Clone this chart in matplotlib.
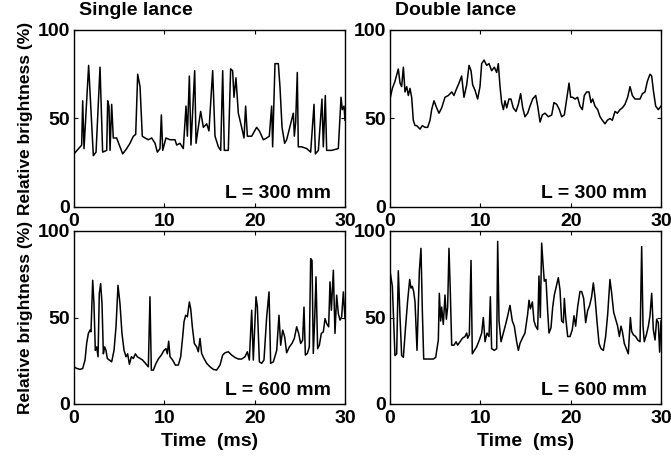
import numpy as np
import matplotlib
matplotlib.use('Agg')
import matplotlib.pyplot as plt

plt.rcParams['font.family'] = ['Liberation Sans', 'DejaVu Sans']
plt.rcParams['font.weight'] = 'bold'

# ── data (time in ms, brightness in %) ─────────────────────────────────────
t_single_300 = [0, 0.85, 0.96, 1.11, 1.62, 2.14, 2.44, 2.88, 3.17, 3.62,
                3.73, 3.87, 3.99, 4.17, 4.35, 4.72, 5.09, 5.39, 5.83, 6.20,
                6.57, 6.83, 7.05, 7.31, 7.56, 7.86, 8.23, 8.60, 8.97, 9.23,
                9.52, 9.67, 9.82, 10.18, 10.63, 11.18, 11.37, 11.73, 12.10, 12.40,
                12.55, 12.77, 12.95, 13.36, 13.51, 13.76, 14.02, 14.32, 14.69, 14.94,
                15.35, 15.61, 15.98, 16.24, 16.46, 16.64, 17.08, 17.34, 17.56, 17.71,
                17.93, 18.19, 18.56, 18.82, 19.00, 19.19, 19.67, 20.22, 20.52, 20.96,
                21.33, 21.62, 21.88, 21.99, 22.25, 22.62, 22.80, 23.03, 23.32, 23.54,
                24.28, 24.39, 24.54, 24.72, 24.83, 25.20, 25.76, 26.20, 26.57, 26.72,
                27.05, 27.45, 27.60, 27.82, 27.97, 28.52, 29.26, 29.56, 29.70, 29.89, 30.0]
v_single_300 = [30, 35, 60, 33, 80, 29, 31, 79, 31, 32,
                60, 57, 32, 58, 39, 39, 34, 30, 33, 36,
                40, 41, 75, 68, 40, 39, 38, 39, 36, 31,
                33, 52, 32, 39, 38, 38, 35, 36, 33, 57,
                40, 74, 35, 77, 36, 45, 54, 45, 47, 43,
                77, 40, 34, 32, 77, 32, 32, 78, 77, 62,
                73, 53, 45, 39, 57, 40, 40, 45, 43, 38,
                39, 40, 57, 34, 81, 81, 68, 45, 36, 38,
                53, 40, 48, 76, 34, 34, 33, 31, 58, 30,
                32, 61, 34, 63, 32, 32, 33, 62, 55, 57, 49]

t_double_300 = [0, 0.26, 0.55, 0.92, 1.11, 1.29, 1.48, 1.66, 1.85, 2.03,
                2.21, 2.40, 2.58, 2.77, 2.95, 3.14, 3.32, 3.58, 3.87, 4.17,
                4.43, 4.61, 4.87, 5.17, 5.42, 5.72, 6.09, 6.46, 6.83, 7.08,
                7.38, 7.64, 7.93, 8.19, 8.49, 8.75, 8.97, 9.15, 9.41, 9.70,
                9.96, 10.15, 10.41, 10.70, 10.96, 11.25, 11.55, 11.81, 11.99, 12.18,
                12.36, 12.55, 12.73, 12.92, 13.17, 13.39, 13.65, 13.95, 14.21, 14.46,
                14.69, 14.94, 15.24, 15.50, 15.79, 16.13, 16.35, 16.61, 16.86, 17.16,
                17.53, 17.90, 18.15, 18.45, 18.75, 19.00, 19.30, 19.56, 19.82, 20.00,
                20.22, 20.48, 20.77, 21.03, 21.29, 21.51, 21.77, 22.03, 22.25, 22.44,
                22.69, 22.99, 23.25, 23.51, 23.80, 24.06, 24.35, 24.61, 24.91, 25.17,
                25.46, 25.72, 26.01, 26.31, 26.57, 26.83, 27.12, 27.38, 27.68, 27.93,
                28.23, 28.49, 28.78, 28.97, 29.15, 29.41, 29.70, 30.0]
v_double_300 = [61, 67, 71, 78, 70, 68, 79, 65, 68, 63,
                67, 62, 49, 46, 46, 45, 44, 46, 45, 45,
                49, 55, 60, 56, 53, 56, 62, 63, 65, 63,
                67, 70, 74, 62, 69, 80, 77, 69, 66, 61,
                68, 81, 83, 80, 81, 77, 79, 76, 81, 68,
                59, 55, 60, 56, 61, 61, 56, 54, 58, 64,
                56, 51, 53, 57, 61, 63, 57, 48, 52, 53,
                51, 52, 59, 58, 55, 51, 52, 61, 70, 62,
                62, 61, 62, 57, 55, 63, 65, 65, 59, 61,
                57, 55, 51, 49, 47, 49, 50, 49, 54, 53,
                55, 56, 58, 62, 68, 63, 61, 61, 61, 64,
                65, 71, 75, 74, 66, 57, 55, 57]

t_single_600 = [0, 0.30, 0.66, 0.96, 1.22, 1.40, 1.59, 1.77, 1.88, 2.07,
                2.21, 2.36, 2.51, 2.66, 2.80, 2.95, 3.10, 3.25, 3.39, 3.54,
                3.69, 3.91, 4.17, 4.43, 4.65, 4.87, 5.09, 5.31, 5.54, 5.76,
                5.94, 6.13, 6.35, 6.57, 6.79, 7.01, 7.31, 7.60, 7.90, 8.23,
                8.41, 8.56, 8.78, 9.08, 9.37, 9.67, 9.96, 10.18, 10.33, 10.48,
                10.63, 10.92, 11.22, 11.55, 11.81, 12.03, 12.18, 12.36, 12.55, 12.77,
                12.92, 13.10, 13.32, 13.58, 13.76, 13.95, 14.13, 14.39, 14.69, 15.06,
                15.42, 15.79, 16.16, 16.46, 16.72, 17.08, 17.45, 17.82, 18.19, 18.56,
                18.93, 19.19, 19.41, 19.67, 19.85, 20.15, 20.30, 20.52, 20.77, 21.03,
                21.33, 21.59, 21.77, 22.07, 22.44, 22.69, 22.88, 23.10, 23.32, 23.54,
                23.84, 24.13, 24.39, 24.65, 24.87, 25.09, 25.31, 25.46, 25.61, 25.83,
                26.05, 26.20, 26.35, 26.49, 26.64, 26.79, 26.97, 27.16, 27.38, 27.60,
                27.79, 27.97, 28.19, 28.34, 28.49, 28.71, 28.89, 29.08, 29.26, 29.45,
                29.63, 29.82, 30.0]
v_single_600 = [21.5, 20.6, 20, 20.5, 25.4, 35, 40.8, 42.7, 41.7, 71.5,
                58, 31, 33, 27.3, 63.8, 69.6, 58, 29, 33, 31,
                26.3, 25.4, 24.4, 31, 44.6, 68.6, 58, 40.8, 31, 27.3,
                29, 23, 27.3, 26.3, 29, 27.3, 26.3, 25.4, 23.5, 21.5,
                62, 19.6, 19.6, 23.5, 26.3, 28.3, 31, 32, 29, 36.3,
                27.3, 25.4, 22.5, 22.5, 27.3, 38.8, 47.5, 51.3, 50.4, 59,
                55, 44.6, 35, 33, 30.2, 37.9, 29.2, 26.3, 23.5, 21.5,
                20, 19.6, 22.5, 28.3, 29.6, 30.2, 28.3, 26.9, 26, 26,
                27.3, 30.2, 25.4, 54.2, 25.4, 62, 56, 24.4, 23.5, 25.4,
                50.4, 64.8, 23.5, 24.4, 31, 51.3, 34, 42.7, 38.8, 29.6,
                33, 35, 37.9, 44.6, 40.8, 35, 36.9, 56, 28.3, 29.2,
                33, 84, 83, 29.2, 48.5, 73.5, 32, 34, 40.8, 41.7,
                49.4, 46.5, 44.6, 70.6, 54.2, 77.3, 40.8, 62.9, 52.3, 48.5,
                50.4, 64.8, 49.4]

t_double_600 = [0, 0.26, 0.55, 0.74, 0.92, 1.11, 1.29, 1.48, 1.73, 1.96,
                2.18, 2.32, 2.47, 2.62, 2.77, 2.99, 3.25, 3.43, 3.58, 3.73,
                4.06, 4.43, 4.80, 5.06, 5.20, 5.35, 5.46, 5.61, 5.72, 5.90,
                6.09, 6.24, 6.38, 6.53, 6.68, 6.83, 7.08, 7.31, 7.49, 7.75,
                8.01, 8.30, 8.49, 8.60, 8.78, 8.97, 9.11, 9.34, 9.59, 9.89,
                10.15, 10.33, 10.52, 10.74, 10.96, 11.11, 11.25, 11.55, 11.81, 11.92,
                12.07, 12.29, 12.55, 12.80, 13.03, 13.28, 13.54, 13.76, 14.02, 14.21,
                14.39, 14.65, 14.94, 15.24, 15.39, 15.54, 15.76, 15.94, 16.13, 16.35,
                16.49, 16.64, 16.79, 16.94, 17.08, 17.27, 17.45, 17.60, 17.82, 18.01,
                18.19, 18.41, 18.63, 18.82, 19.00, 19.19, 19.30, 19.45, 19.67, 19.93,
                20.18, 20.37, 20.55, 20.77, 21.03, 21.22, 21.44, 21.66, 21.88, 22.10,
                22.32, 22.51, 22.69, 22.91, 23.14, 23.36, 23.62, 23.87, 24.10, 24.35,
                24.54, 24.76, 24.98, 25.20, 25.39, 25.57, 25.72, 25.94, 26.16, 26.38,
                26.61, 26.75, 26.94, 27.20, 27.42, 27.68, 27.86, 28.01, 28.15, 28.38,
                28.60, 28.78, 28.97, 29.15, 29.34, 29.52, 29.70, 29.85, 30.0]
v_double_600 = [77, 68, 28, 29, 77, 50, 28, 27, 45, 60,
                72, 67, 68, 65, 59, 31, 77, 90, 54, 26,
                26, 26, 26, 27, 32, 37, 64, 48, 56, 46,
                63, 49, 56, 90, 64, 34, 34, 36, 34, 36,
                38, 39, 41, 38, 40, 83, 29, 31, 33, 37,
                41, 50, 36, 41, 39, 62, 32, 31, 32, 94,
                48, 36, 41, 46, 51, 57, 48, 45, 36, 31,
                35, 38, 41, 52, 60, 55, 59, 48, 45, 43,
                74, 50, 93, 81, 71, 72, 54, 41, 44, 56,
                63, 68, 73, 66, 48, 47, 61, 50, 39, 39,
                43, 51, 45, 56, 65, 65, 61, 47, 54, 57,
                62, 70, 62, 48, 35, 32, 31, 39, 52, 72,
                64, 53, 49, 45, 39, 45, 42, 35, 32, 29,
                50, 42, 40, 39, 37, 36, 91, 45, 36, 40,
                45, 51, 64, 43, 37, 49, 47, 30, 48]

panel_titles = ['Single lance', 'Double lance']
lance_labels = ['L = 300 mm', 'L = 300 mm', 'L = 600 mm', 'L = 600 mm']
x_ticks = [0, 10, 20, 30]
y_ticks = [0, 50, 100]

series = [(t_single_300, v_single_300), (t_double_300, v_double_300),
          (t_single_600, v_single_600), (t_double_600, v_double_600)]

# ── layout ────────────────────────────────────────────────────────────────
fig = plt.figure(figsize=(6.71, 4.59), dpi=100)
W, H = 671, 459
lefts = [74, 390]
rows = [(30, 207), (231, 404)]
FS = 14

axes = []
for r, (top, bot) in enumerate(rows):
    for c, left in enumerate(lefts):
        ax = fig.add_axes([left / W, 1 - bot / H, 271 / W, (bot - top) / H])
        axes.append(ax)

for i, ax in enumerate(axes):
    t, v = series[i]
    ax.plot(t, v, color='black', linewidth=1.1)
    ax.set_xlim(0, 30)
    ax.set_ylim(0, 100)
    ax.set_xticks(x_ticks)
    ax.set_yticks(y_ticks)
    ax.tick_params(direction='in', top=True, right=True, length=3, width=0.8,
                   labelsize=FS)
    ax.tick_params(axis='x', pad=4)
    ax.tick_params(axis='y', pad=3)
    for lab in ax.get_xticklabels() + ax.get_yticklabels():
        lab.set_fontweight('bold')
    for sp in ax.spines.values():
        sp.set_linewidth(1.0)
    ax.text(0.95, 0.03, lance_labels[i], transform=ax.transAxes, ha='right',
            va='bottom', fontsize=FS, fontweight='bold')
    if i < 2:
        ax.text(0.02, 1.06, panel_titles[i], transform=ax.transAxes, ha='left',
                va='bottom', fontsize=FS, fontweight='bold')
    if i % 2 == 0:
        ax.set_ylabel('Relative brightness (%)', fontsize=12.5, fontweight='bold',
                      labelpad=3)
    if i >= 2:
        ax.set_xlabel('Time  (ms)', fontsize=FS, fontweight='bold', labelpad=5)

fig.savefig('out.png', dpi=100)
